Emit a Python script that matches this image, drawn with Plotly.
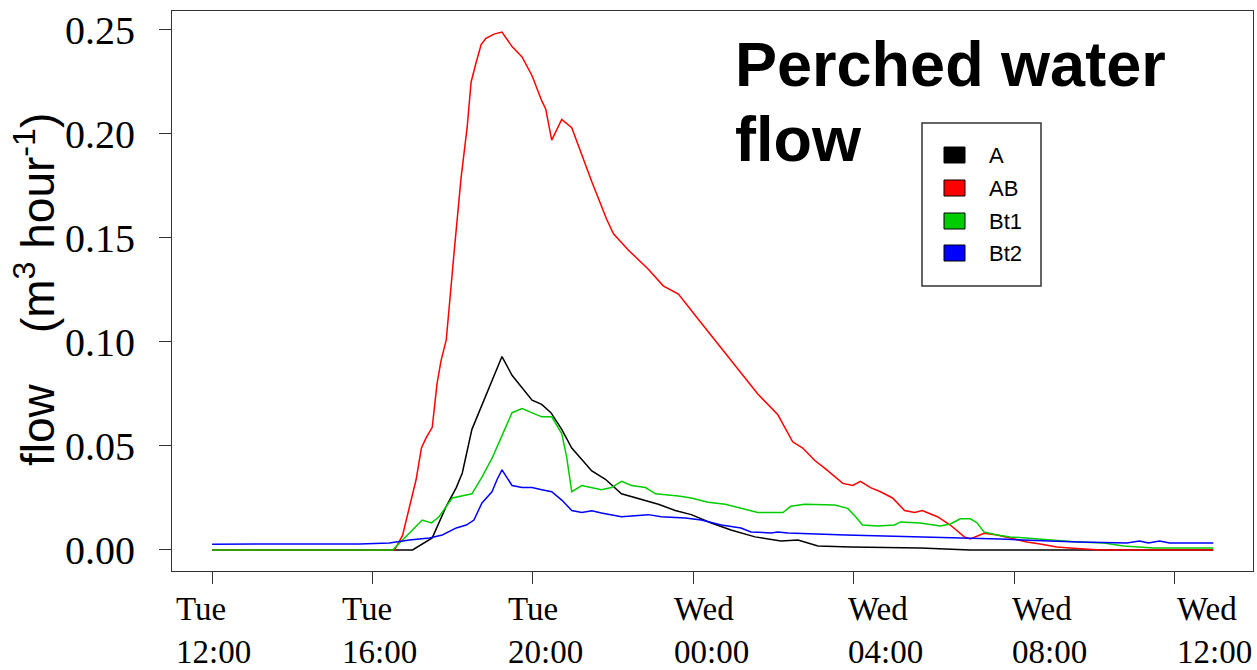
import pandas as pd
import plotly.graph_objects as go

# ---- data (hours after Tue 12:00, flow m3/hour) ----
BASE = pd.Timestamp("2010-06-08 12:00")  # a Tuesday

A_hours = [0, 5.0, 5.49, 5.84, 6.09, 6.24, 6.48, 6.78, 6.98, 7.23, 7.48, 7.73, 7.98, 8.22, 8.45, 8.72,
           8.97, 9.47, 9.81, 10.21, 10.56, 11.13, 11.55, 11.95, 12.45, 12.94, 13.54, 14.19, 14.61,
           15.11, 15.93, 17.66, 18.91, 24.97]
A_flow = [0, 0, .0058, .021, .030, .037, .058, .072, .082, .093, .084, .078, .072, .070, .066, .058,
          .049, .038, .034, .027, .025, .022, .019, .017, .013, .0096, .0063, .0043, .0048,
          .0019, .0014, .001, 0, 0]

AB_hours = [0, 4.55, 4.75, 4.92, 5.09, 5.22, 5.34, 5.49, 5.61, 5.71, 5.84, 6.04, 6.11, 6.21, 6.36,
            6.46, 6.58, 6.71, 6.83, 7.03, 7.23, 7.48, 7.73, 7.98, 8.22, 8.32, 8.47, 8.72, 8.97,
            9.14, 9.47, 9.84, 10.01, 10.39, 10.88, 11.25, 11.63, 12.12, 12.62, 13.12, 13.61,
            14.11, 14.48, 14.73, 15.03, 15.30, 15.53, 15.73, 15.98, 16.17, 16.42, 16.67, 16.97,
            17.27, 17.52, 17.71, 18.09, 18.41, 18.76, 18.91, 19.25, 19.58, 19.90, 20.32, 20.65,
            21.07, 21.39, 22.14, 24.97]
AB_flow = [0, 0, .007, .021, .034, .049, .054, .059, .080, .091, .101, .144, .159, .179, .203,
           .225, .234, .243, .246, .248, .249, .242, .237, .228, .216, .212, .197, .207, .203,
           .194, .177, .159, .152, .144, .135, .127, .123, .111, .099, .087, .075,
           .065, .052, .049, .043, .039, .035, .032, .031, .033, .030, .028, .025,
           .019, .018, .019, .016, .012, .0063, .0053, .008, .0072, .0058, .0038, .0029,
           .0014, .001, 0, 0]

Bt1_hours = [0, 4.50, 4.75, 5.24, 5.47, 5.66, 5.99, 6.24, 6.48, 6.73, 6.98, 7.23, 7.48, 7.73, 7.98,
             8.22, 8.47, 8.72, 8.84, 8.97, 9.22, 9.47, 9.71, 9.96, 10.21, 10.46, 10.81, 11.06,
             11.63, 11.95, 12.37, 12.80, 13.19, 13.61, 14.24, 14.43, 14.78, 15.53, 15.85, 16.05,
             16.22, 16.60, 17.02, 17.17, 17.66, 18.16, 18.41, 18.66, 18.91, 19.08, 19.25, 19.58,
             19.90, 20.25, 20.75, 21.57, 22.24, 22.73, 23.48, 24.97]
Bt1_flow = [0, 0, .0048, .0144, .013, .016, .025, .026, .027, .035, .044, .055, .066, .068, .066,
            .064, .064, .056, .045, .028, .031, .030, .029, .030, .033, .031, .030, .027,
            .026, .025, .023, .022, .020, .018, .018, .021, .022, .0216, .020, .016,
            .012, .0115, .012, .0135, .013, .0115, .0125, .015, .015, .013, .0087, .0072,
            .0063, .0058, .0048, .0038, .0034, .0019, .001, .001]

Bt2_hours = [0, 3.68, 4.42, 4.92, 5.42, 5.74, 6.09, 6.34, 6.53, 6.73, 6.98, 7.11, 7.23, 7.48, 7.73,
             7.98, 8.22, 8.47, 8.72, 8.97, 9.22, 9.47, 9.71, 10.21, 10.88, 11.20, 11.80, 12.20,
             12.70, 13.19, 13.44, 13.94, 14.11, 14.36, 15.80, 17.52, 18.76, 19.65, 20.89, 21.64,
             22.81, 23.13, 23.35, 23.63, 23.88, 24.97]
Bt2_flow = [.0028, .0029, .0034, .0048, .0058, .0072, .0106, .012, .0144, .0226, .028, .034, .0385,
            .031, .030, .030, .029, .028, .024, .019, .018, .0188, .0178, .016, .017, .016, .0154,
            .0144, .012, .0106, .0087, .0082, .0087, .0082, .0072, .0063, .0058, .0053, .0043,
            .0038, .0034, .0043, .0034, .0043, .0034, .0034]

series_names = ["A", "AB", "Bt1", "Bt2"]
series_colors = ["#000000", "#ff0000", "#00cd00", "#0000ff"]
series_hours = [A_hours, AB_hours, Bt1_hours, Bt2_hours]
series_flow = [A_flow, AB_flow, Bt1_flow, Bt2_flow]

tick_hours = [0, 4, 8, 12, 16, 20, 24]
tick_labels = ["Tue<br>12:00", "Tue<br>16:00", "Tue<br>20:00", "Wed<br>00:00",
               "Wed<br>04:00", "Wed<br>08:00", "Wed<br>12:00"]
y_ticks = [0.0, 0.05, 0.10, 0.15, 0.20, 0.25]

# layout-only: horizontal offsets (px) of each tick label's left edge from its tick
label_shift = [-38, -32, -27, -21, -8, -4, 1]


def to_time(hours):
    return [BASE + pd.Timedelta(hours=h) for h in hours]


fig = go.Figure()
for name, col, hrs, flw in zip(series_names, series_colors, series_hours, series_flow):
    fig.add_trace(go.Scatter(x=to_time(hrs), y=flw, mode="lines", name=name,
                             line=dict(color=col, width=1.5), showlegend=False))

W, H = 1257, 670
ML, MR, MT, MB = 172, 4, 11, 99
PW, PH = W - ML - MR, H - MT - MB
NB = "\u00a0"


def px(x):
    return (x - ML) / PW


def py(y):
    return (H - MB - y) / PH


fig.update_layout(
    width=W, height=H,
    margin=dict(l=ML, r=MR, t=MT, b=MB, autoexpand=False),
    paper_bgcolor="white", plot_bgcolor="white",
    xaxis=dict(
        type="date", automargin=False,
        range=[BASE + pd.Timedelta(hours=-1.0), BASE + pd.Timedelta(hours=25.96)],
        tickvals=to_time(tick_hours), showticklabels=False,
        ticks="outside", ticklen=12, tickcolor="#333", tickwidth=1,
        showline=True, linecolor="#333", linewidth=1, mirror=True,
        showgrid=False, zeroline=False,
    ),
    yaxis=dict(
        automargin=False,
        range=[-0.0101, 0.2591],
        tickvals=y_ticks, tickformat=".2f",
        ticks="outside", ticklen=12, tickcolor="#333", tickwidth=1,
        showline=True, linecolor="#333", linewidth=1, mirror=True,
        showgrid=False, zeroline=False,
        tickfont=dict(family="Liberation Serif", size=40, color="black"),
        ticklabelstandoff=16,
    ),
)

# x tick labels (left-aligned two-line blocks)
for th, lab, sh in zip(to_time(tick_hours), tick_labels, label_shift):
    fig.add_annotation(xref="x", yref="paper", x=th, y=py(630), text=lab, xshift=sh,
                       showarrow=False, xanchor="left", yanchor="middle", align="left",
                       font=dict(family="Liberation Serif", size=33, color="black"))

# y-axis title
fig.add_annotation(xref="paper", yref="paper", x=px(35), y=py(290),
                   text="flow" + NB * 4 + "(m<sup>3</sup> hour<sup>-1</sup>)",
                   textangle=-90, showarrow=False, xanchor="center", yanchor="middle",
                   font=dict(family="Liberation Sans", size=46, color="black"))

# chart title
fig.add_annotation(xref="paper", yref="paper", x=px(733), y=py(64), text="<b>Perched water</b>",
                   showarrow=False, xanchor="left", yanchor="middle",
                   font=dict(family="Liberation Sans", size=63, color="black"))
fig.add_annotation(xref="paper", yref="paper", x=px(733), y=py(139), text="<b>flow</b>",
                   showarrow=False, xanchor="left", yanchor="middle",
                   font=dict(family="Liberation Sans", size=63, color="black"))

# legend box
fig.add_shape(type="rect", xref="paper", yref="paper", x0=px(922), x1=px(1041),
              y0=py(286), y1=py(123), line=dict(color="#333", width=1.5), fillcolor="white")
row_y = [155, 188, 221, 253]
for name, col, ry in zip(series_names, series_colors, row_y):
    fig.add_shape(type="rect", xref="paper", yref="paper", x0=px(944), x1=px(965),
                  y0=py(ry + 8), y1=py(ry - 8), line=dict(color="black", width=1), fillcolor=col)
    fig.add_annotation(xref="paper", yref="paper", x=px(987), y=py(ry), text=name,
                       showarrow=False, xanchor="left", yanchor="middle",
                       font=dict(family="Liberation Sans", size=22, color="black"))

fig.write_html("out.html")
